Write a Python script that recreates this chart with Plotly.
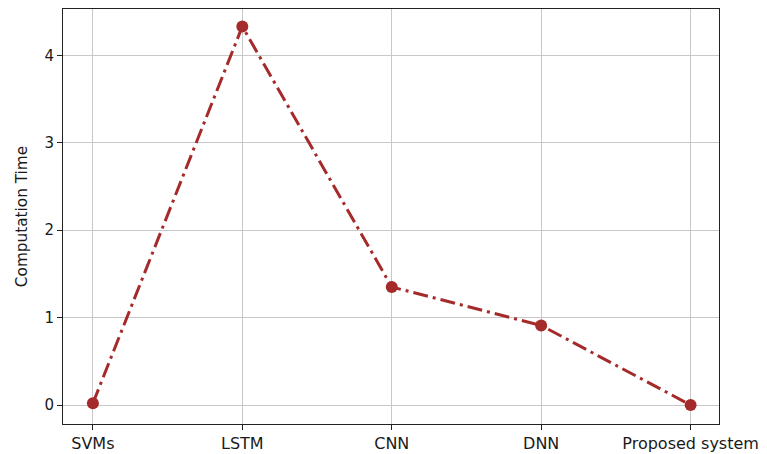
import plotly.graph_objects as go

categories = ["SVMs", "LSTM", "CNN", "DNN", "Proposed system"]
computation_time = [0.02, 4.33, 1.35, 0.91, 0.0]
y_ticks = [0, 1, 2, 3, 4]

fig = go.Figure()
fig.add_trace(go.Scatter(
    x=list(range(len(categories))), y=computation_time,
    mode="lines+markers",
    line=dict(color="#A52A2A", width=3, dash="15px,5px,3px,5px"),
    marker=dict(color="#A52A2A", size=12),
    showlegend=False,
))

axis_common = dict(
    showline=True, linecolor="#222", linewidth=1, mirror=True,
    showgrid=True, gridcolor="#c8c8c8", gridwidth=1,
    ticks="outside", ticklen=5, tickcolor="#222",
    zeroline=False,
)

fig.update_layout(
    width=759, height=446,
    margin=dict(l=55, r=48, t=1, b=30),
    paper_bgcolor="white", plot_bgcolor="white",
    xaxis=dict(**axis_common, range=[-0.2, 4.19],
               tickmode="array", tickvals=list(range(len(categories))),
               ticktext=categories,
               tickfont=dict(family="DejaVu Sans", size=16, color="#1a1a1a")),
    yaxis=dict(**axis_common, range=[-0.217, 4.53],
               tickmode="array", tickvals=y_ticks,
               ticktext=[str(v) for v in y_ticks],
               tickfont=dict(family="DejaVu Sans", size=15, color="#1a1a1a"),
               title=dict(text="Computation Time", standoff=13,
                          font=dict(family="DejaVu Sans", size=15.3, color="#1a1a1a"))),
)

fig.write_html("out.html")
